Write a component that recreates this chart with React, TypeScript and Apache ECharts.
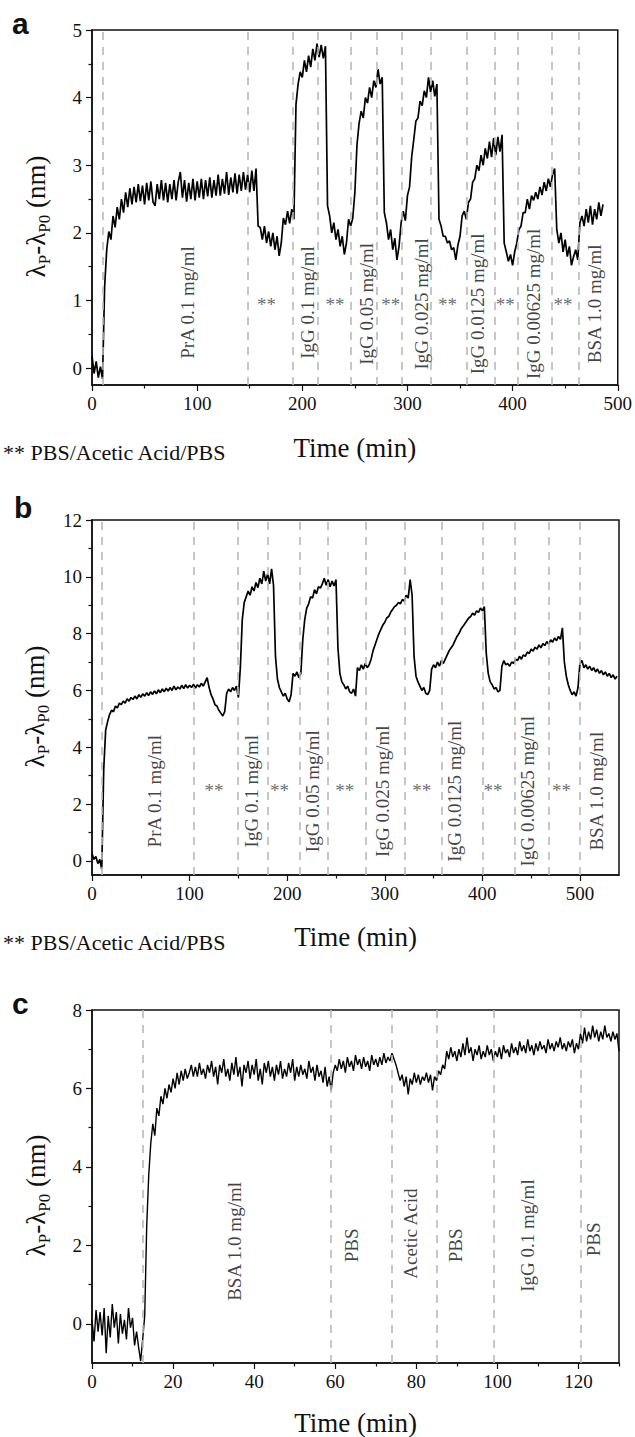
import React, { useEffect, useRef } from "react";
import * as echarts from "echarts";

const SERIF = "Liberation Serif, Times New Roman, serif";
const SANS = "Liberation Sans, Arial, sans-serif";
const INK = "#111";

// ---------------- Panel a ----------------
const aStart = 0;
const aStep = 2;
const aValues = [
  0.18, -0.08, 0.1, -0.14, 0.02, -0.16, 1.2, 1.75, 2.02, 1.9,
  2.25, 2.08, 2.38, 2.2, 2.5, 2.3, 2.6, 2.38, 2.66, 2.42,
  2.68, 2.45, 2.72, 2.47, 2.7, 2.42, 2.74, 2.48, 2.76, 2.46,
  2.4, 2.72, 2.5, 2.78, 2.48, 2.74, 2.45, 2.72, 2.5, 2.78,
  2.48, 2.75, 2.9, 2.52, 2.78, 2.46, 2.74, 2.5, 2.8, 2.48,
  2.76, 2.52, 2.8, 2.5, 2.78, 2.54, 2.82, 2.52, 2.78, 2.55,
  2.86, 2.55, 2.8, 2.58, 2.9, 2.56, 2.82, 2.6, 2.88, 2.58,
  2.86, 2.62, 2.9, 2.64, 2.86, 2.6, 2.92, 2.62, 2.95, 2.1,
  2.08, 1.9, 2.1, 1.85, 2.02, 1.8, 2.0, 1.75, 1.95, 1.66,
  1.85, 2.22, 2.12, 2.32, 2.14, 2.35, 2.2, 3.9, 4.2, 4.38,
  4.3, 4.55, 4.38, 4.62, 4.45, 4.72, 4.55, 4.8, 4.6, 4.78,
  4.58, 4.76, 2.4, 2.25, 2.0, 2.15, 1.9, 2.05, 1.8, 1.95,
  1.68, 1.85, 2.2, 2.1, 2.22, 2.6, 3.3, 3.62, 3.8, 3.7,
  4.0, 3.92, 4.15, 4.0, 4.25, 4.15, 4.42, 4.2, 4.3, 2.3,
  2.15, 1.9, 2.05, 1.75, 1.92, 1.6, 1.8, 2.15, 2.32, 2.18,
  2.55, 2.68, 3.12, 3.38, 3.65, 3.7, 3.95, 3.88, 4.1, 4.0,
  4.3, 4.08, 4.25, 4.02, 4.2, 2.2, 2.1, 1.95, 1.95, 1.85,
  1.88, 1.75, 1.78, 1.6, 1.82, 1.95, 2.25, 2.32, 2.2, 2.45,
  2.5, 2.75, 2.8, 3.0, 2.92, 3.15, 3.0, 3.25, 3.1, 3.35,
  3.12, 3.4, 3.15, 3.42, 3.2, 3.45, 1.85, 1.72, 1.58, 1.68,
  1.52, 1.72, 1.85, 2.05, 2.1, 2.3, 2.3, 2.5, 2.35, 2.55,
  2.48, 2.6, 2.5, 2.68, 2.56, 2.75, 2.62, 2.8, 2.68, 2.86,
  2.95, 2.05, 1.85, 2.0, 1.72, 1.9, 1.65, 1.8, 1.52, 1.65,
  1.75, 1.6, 2.15, 2.25, 2.1, 2.35, 2.15, 2.4, 2.12, 2.35,
  2.2, 2.45, 2.25, 2.42,
];
const aDashes = [10, 148, 191, 215, 246, 271, 295, 322, 356, 383, 405, 437, 463];
const aLabelText = [
  "PrA 0.1 mg/ml", "IgG 0.1 mg/ml", "IgG 0.05 mg/ml", "IgG 0.025 mg/ml",
  "IgG 0.0125 mg/ml", "IgG 0.00625 mg/ml", "BSA 1.0 mg/ml",
];
const aLabelX = [91, 205, 261, 313, 367, 420, 478];
const aLabelY = [0.97, 0.97, 0.95, 0.95, 0.95, 0.95, 0.95];
const aStarX = [166, 231, 284, 338, 393, 448];
const aStarY = [0.94, 0.94, 0.94, 0.94, 0.94, 0.94];
const aXTicks = [0, 100, 200, 300, 400, 500];
const aXMinor = [50, 150, 250, 350, 450];
const aYTicks = [0, 1, 2, 3, 4, 5];
const aYMinor = [0.5, 1.5, 2.5, 3.5, 4.5];

// ---------------- Panel b ----------------
const bStart = 0;
const bStep = 2;
const bValues = [
  0.25, 0.05, 0.15, -0.1, 0.05, -0.3, 3.2, 4.6, 4.9, 5.15,
  5.3, 5.25, 5.45, 5.38, 5.55, 5.5, 5.62, 5.55, 5.7, 5.62,
  5.75, 5.68, 5.8, 5.7, 5.85, 5.76, 5.88, 5.8, 5.92, 5.82,
  5.95, 5.86, 5.98, 5.88, 6.02, 5.92, 6.05, 5.95, 6.08, 5.98,
  6.1, 6.0, 6.15, 6.02, 6.12, 6.05, 6.18, 6.06, 6.2, 6.08,
  6.18, 6.1, 6.22, 6.08, 6.2, 6.12, 6.25, 6.15, 6.3, 6.45,
  6.1, 5.85, 5.7, 5.5, 5.45, 5.3, 5.2, 5.1, 5.25, 5.9,
  6.05, 5.95, 6.1, 6.0, 6.15, 5.75, 6.8, 8.5, 9.1, 9.3,
  9.5, 9.35, 9.65, 9.5, 9.8, 9.62, 9.95, 9.75, 10.2, 9.85,
  10.1, 9.75, 10.28, 9.7, 7.2, 6.4, 6.1, 5.95, 5.8, 5.9,
  5.7, 5.6, 5.85, 6.6, 6.5, 6.65, 6.45, 6.6, 7.8, 8.5,
  8.9, 9.05, 9.3, 9.25, 9.55, 9.4, 9.65, 9.6, 9.75, 9.95,
  9.7, 9.9, 9.65, 9.85, 9.68, 9.9, 7.5, 6.6, 6.3, 6.2,
  6.05, 6.15, 5.95, 5.9, 6.05, 5.8, 6.8, 6.7, 6.9, 6.75,
  6.95, 6.8, 6.9, 7.1, 7.4, 7.6, 7.8, 8.0, 8.15, 8.3,
  8.4, 8.55, 8.6, 8.75, 8.85, 8.95, 9.0, 9.1, 9.05, 9.2,
  9.15, 9.35, 9.25, 9.9, 9.35, 7.2, 6.5, 6.3, 6.15, 6.0,
  6.1, 5.9, 5.85, 6.0, 6.75, 6.9, 6.8, 7.0, 6.85, 7.05,
  6.95, 7.1, 7.25, 7.4, 7.5, 7.6, 7.75, 7.9, 8.0, 8.15,
  8.25, 8.35, 8.45, 8.55, 8.6, 8.72, 8.65, 8.8, 8.75, 8.9,
  8.8, 8.95, 7.3, 6.6, 6.3, 6.2, 6.05, 6.1, 5.95, 6.0,
  6.85, 7.05, 6.9, 6.95, 6.85, 7.0, 6.95, 7.1, 7.05, 7.2,
  7.1, 7.25, 7.2, 7.35, 7.3, 7.45, 7.38, 7.52, 7.45, 7.6,
  7.5, 7.65, 7.58, 7.72, 7.62, 7.78, 7.7, 7.85, 7.75, 7.9,
  7.8, 8.2, 7.0, 6.5, 6.2, 6.0, 5.85, 5.95, 5.8, 6.1,
  6.95, 7.05, 6.8, 6.9, 6.75, 6.85, 6.7, 6.8, 6.65, 6.75,
  6.6, 6.7, 6.55, 6.65, 6.5, 6.6, 6.45, 6.55, 6.4, 6.5,
];
const bDashes = [10.5, 104, 149, 180, 213, 242, 280, 320, 358, 400, 433, 468, 500];
const bLabelText = [
  "PrA 0.1 mg/ml", "IgG 0.1 mg/ml", "IgG 0.05 mg/ml", "IgG 0.025 mg/ml",
  "IgG 0.0125 mg/ml", "IgG 0.00625 mg/ml", "BSA 1.0 mg/ml",
];
const bLabelX = [64, 163, 226, 298, 371, 446, 517];
const bLabelY = [2.45, 2.45, 2.45, 2.45, 2.45, 2.45, 2.45];
const bStarX = [125, 192, 259, 338, 411, 481];
const bStarY = [2.47, 2.47, 2.47, 2.47, 2.47, 2.47];
const bXTicks = [0, 100, 200, 300, 400, 500];
const bXMinor = [50, 150, 250, 350, 450];
const bYTicks = [0, 2, 4, 6, 8, 10, 12];
const bYMinor = [1, 3, 5, 7, 9, 11];

// ---------------- Panel c ----------------
const cStart = 0;
const cStep = 0.5;
const cValues = [
  0.1, -0.45, 0.35, -0.2, 0.3, -0.3, 0.4, -0.75, 0.2, -0.35,
  0.5, -0.1, 0.3, -0.5, 0.25, -0.25, 0.1, -0.4, 0.4, -0.1,
  0.15, -0.55, -0.2, -0.6, -0.95, -0.4, 0.2, 2.5, 3.8, 4.6,
  5.1, 4.8, 5.5, 5.3, 5.8, 5.6, 6.0, 5.75, 6.1, 5.9,
  6.25, 6.0, 6.4, 6.1, 6.45, 6.2, 6.5, 6.25, 6.4, 6.6,
  6.3, 6.55, 6.3, 6.65, 6.35, 6.5, 6.25, 6.6, 6.4, 6.7,
  6.3, 6.55, 6.1, 6.6, 6.4, 6.75, 6.3, 6.5, 6.2, 6.65,
  6.35, 6.8, 6.3, 6.55, 6.05, 6.6, 6.4, 6.7, 6.25, 6.6,
  6.35, 6.75, 6.2, 6.5, 6.1, 6.65, 6.4, 6.7, 6.3, 6.55,
  6.2, 6.6, 6.35, 6.7, 6.25, 6.5, 6.3, 6.65, 6.4, 6.75,
  6.2, 6.55, 6.3, 6.6, 6.35, 6.5, 6.25, 6.7, 6.4, 6.55,
  6.2, 6.6, 6.3, 6.45, 6.15, 6.55, 6.05, 6.3, 5.95, 6.4,
  6.6, 6.45, 6.75, 6.5, 6.7, 6.4, 6.8, 6.55, 6.7, 6.45,
  6.85, 6.6, 6.75, 6.5, 6.8, 6.55, 6.7, 6.45, 6.85, 6.6,
  6.75, 6.55, 6.8, 6.6, 6.9, 6.65, 6.8, 6.7, 6.9, 6.75,
  6.6, 6.4, 6.2, 6.35, 6.05, 6.3, 5.85, 6.25, 6.1, 6.4,
  6.15, 6.35, 6.1, 6.3, 6.2, 6.4, 6.15, 6.35, 5.95, 6.3,
  6.2, 6.45, 6.35, 6.6, 6.5, 6.95, 6.75, 7.05, 6.8, 6.95,
  6.7, 7.0, 6.8, 7.15, 6.85, 7.3, 6.9, 7.05, 6.7, 7.0,
  6.85, 7.1, 6.75, 6.95, 6.8, 7.1, 6.85, 7.0, 6.7, 6.95,
  6.8, 7.05, 6.75, 7.1, 6.9, 7.0, 6.8, 7.15, 6.9, 7.05,
  6.85, 7.2, 6.95, 7.1, 6.9, 7.25, 6.95, 7.1, 6.85, 7.15,
  6.95, 7.2, 7.0, 7.1, 6.9, 7.25, 7.0, 7.15, 6.95, 7.2,
  7.05, 7.3, 7.0, 7.15, 6.95, 7.2, 7.05, 7.25, 6.9, 7.15,
  7.0, 7.4, 7.15, 7.55, 7.2, 7.45, 7.25, 7.6, 7.3, 7.5,
  7.2, 7.45, 7.25, 7.6, 7.3, 7.4, 7.2, 7.45, 7.25, 7.4,
  6.95,
];
const cDashes = [12.5, 59, 74, 85, 99, 120.5];
const cLabelText = ["BSA 1.0 mg/ml", "PBS", "Acetic Acid", "PBS", "IgG 0.1 mg/ml", "PBS"];
const cLabelX = [35.2, 64, 78.6, 89.6, 107.5, 123.8];
const cLabelY = [2.1, 2.0, 2.3, 2.0, 2.25, 2.15];
const cXTicks = [0, 20, 40, 60, 80, 100, 120];
const cXMinor = [10, 30, 50, 70, 90, 110, 130];
const cYTicks = [0, 2, 4, 6, 8];
const cYMinor = [1, 3, 5, 7];

const NOTE = "** PBS/Acetic Acid/PBS";

type Panel = {
  start: number; step: number; values: number[];
  dashes: number[];
  labelText: string[]; labelX: number[]; labelY: number[];
  starX: number[]; starY: number[];
  xMax: number; yMin: number; yMax: number;
  xTicks: number[]; xMinor: number[]; yTicks: number[]; yMinor: number[];
  top: number; nameGap: number; lineWidth: number;
};

const panels: Panel[] = [
  {
    start: aStart, step: aStep, values: aValues, dashes: aDashes,
    labelText: aLabelText, labelX: aLabelX, labelY: aLabelY,
    starX: aStarX, starY: aStarY,
    xMax: 500, yMin: -0.25, yMax: 5,
    xTicks: aXTicks, xMinor: aXMinor, yTicks: aYTicks, yMinor: aYMinor,
    top: 30, nameGap: 49, lineWidth: 1.7,
  },
  {
    start: bStart, step: bStep, values: bValues, dashes: bDashes,
    labelText: bLabelText, labelX: bLabelX, labelY: bLabelY,
    starX: bStarX, starY: bStarY,
    xMax: 540, yMin: -0.5, yMax: 12,
    xTicks: bXTicks, xMinor: bXMinor, yTicks: bYTicks, yMinor: bYMinor,
    top: 520, nameGap: 48, lineWidth: 1.7,
  },
  {
    start: cStart, step: cStep, values: cValues, dashes: cDashes,
    labelText: cLabelText, labelX: cLabelX, labelY: cLabelY,
    starX: [], starY: [],
    xMax: 130, yMin: -1, yMax: 8,
    xTicks: cXTicks, xMinor: cXMinor, yTicks: cYTicks, yMinor: cYMinor,
    top: 1010, nameGap: 46, lineWidth: 1.4,
  },
];

const axisLineStyle = { color: INK, width: 1.5 };
const tickStyle = { color: INK, width: 1.2 };
const serifText = (size: number, color = INK) => ({
  fontFamily: SERIF, fontSize: size, fontWeight: "normal", fontStyle: "normal", color,
});

function buildOption() {
  const grid: any[] = [];
  const xAxis: any[] = [];
  const yAxis: any[] = [];
  const series: any[] = [];

  panels.forEach((p, i) => {
    grid.push({
      left: 92, top: p.top, width: 527, height: 355,
      show: true, borderColor: INK, borderWidth: 1.5, backgroundColor: "#fff",
      containLabel: false,
    });
    xAxis.push({
      type: "value", gridIndex: i, min: 0, max: p.xMax, position: "bottom",
      axisLine: { show: true, onZero: false, lineStyle: axisLineStyle },
      axisTick: { show: true, inside: false, length: 6, customValues: p.xTicks, lineStyle: tickStyle },
      axisLabel: { customValues: p.xTicks, margin: 9, ...serifText(19) },
      splitLine: { show: false },
      name: "Time (min)", nameLocation: "middle", nameGap: p.nameGap,
      nameTextStyle: serifText(27),
    });
    xAxis.push({
      type: "value", gridIndex: i, min: 0, max: p.xMax, position: "bottom",
      axisLine: { show: false, onZero: false },
      axisTick: { show: true, inside: false, length: 3.5, customValues: p.xMinor, lineStyle: tickStyle },
      axisLabel: { show: false },
      splitLine: { show: false },
    });
    yAxis.push({
      type: "value", gridIndex: i, min: p.yMin, max: p.yMax, position: "left",
      axisLine: { show: true, onZero: false, lineStyle: axisLineStyle },
      axisTick: { show: true, inside: false, length: 6, customValues: p.yTicks, lineStyle: tickStyle },
      axisLabel: { customValues: p.yTicks, margin: 10, ...serifText(19) },
      splitLine: { show: false },
      name: "{n|λ}{s|P}{n|-λ}{s|P0}{n| (nm)}",
      nameLocation: "middle", nameGap: 39, nameRotate: 90,
      nameTextStyle: {
        ...serifText(27),
        padding: [0, 18, 0, 0],
        rich: {
          n: { ...serifText(27), lineHeight: 34 },
          s: { ...serifText(17), lineHeight: 17, verticalAlign: "bottom" },
        },
      },
    });
    yAxis.push({
      type: "value", gridIndex: i, min: p.yMin, max: p.yMax, position: "left",
      axisLine: { show: false, onZero: false },
      axisTick: { show: true, inside: false, length: 3.5, customValues: p.yMinor, lineStyle: tickStyle },
      axisLabel: { show: false },
      splitLine: { show: false },
    });

    const xi = 2 * i;
    const yi = 2 * i;
    series.push({
      type: "line", xAxisIndex: xi, yAxisIndex: yi, data: [], silent: true, z: 1,
      markLine: {
        silent: true, symbol: ["none", "none"], label: { show: false },
        lineStyle: { color: "#b8b8b8", type: [8, 7], width: 1.6 },
        emphasis: { disabled: true },
        data: p.dashes.map((v) => ({ xAxis: v })),
      },
    });
    series.push({
      type: "line", xAxisIndex: xi, yAxisIndex: yi, z: 3,
      data: p.values.map((v, k) => [p.start + k * p.step, v]),
      symbol: "none", showSymbol: false, clip: true,
      lineStyle: { color: "#000", width: p.lineWidth },
    });
    series.push({
      type: "scatter", xAxisIndex: xi, yAxisIndex: yi, z: 4, symbolSize: 0, silent: true,
      data: p.labelText.map((t, k) => ({ name: t, value: [p.labelX[k], p.labelY[k]] })),
      label: {
        show: true, position: "inside", rotate: 90, formatter: "{b}",
        ...serifText(19),
      },
    });
    if (p.starX.length) {
      series.push({
        type: "scatter", xAxisIndex: xi, yAxisIndex: yi, z: 4, symbolSize: 0, silent: true,
        data: p.starX.map((x, k) => ({ name: "**", value: [x, p.starY[k]] })),
        label: {
          show: true, position: "inside", formatter: "{b}",
          ...serifText(19, "#444"),
        },
      });
    }
  });

  const letter = (t: string, left: number, top: number) => ({
    type: "text", left, top,
    style: { text: t, fontFamily: SANS, fontWeight: "bold", fontSize: 30, fill: INK },
  });
  const note = (top: number) => ({
    type: "text", left: 3, top,
    style: { text: NOTE, fontFamily: SERIF, fontWeight: "normal", fontSize: 22, fill: INK },
  });
  const graphic = [letter("a", 12, 8), letter("b", 14, 492), letter("c", 12, 988), note(441), note(931)];

  return {
    animation: false,
    backgroundColor: "#fff",
    textStyle: { fontFamily: SERIF, fontWeight: "normal" },
    grid, xAxis, yAxis, series, graphic,
  };
}

export default function App() {
  const ref = useRef<HTMLDivElement>(null);
  useEffect(() => {
    document.body.style.margin = "0";
    if (!ref.current) return;
    const chart = echarts.init(ref.current, undefined, { renderer: "svg" });
    chart.setOption(buildOption() as any);
    return () => chart.dispose();
  }, []);
  return <div ref={ref} style={{ width: 635, height: 1437 }} />;
}
